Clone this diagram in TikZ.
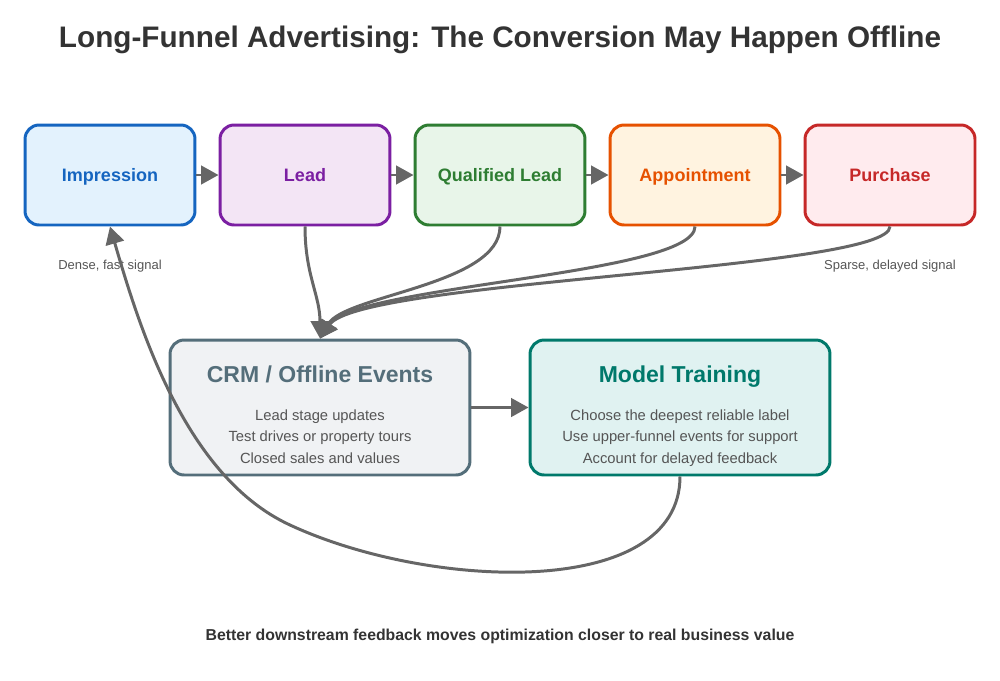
\documentclass[tikz,border=0pt]{standalone}
\usepackage{fontspec}
\setmainfont{Liberation Sans}
\usepackage{xcolor}
\usetikzlibrary{arrows.meta,positioning}

\definecolor{impline}{HTML}{1565C0}\definecolor{impfill}{HTML}{E3F2FD}
\definecolor{leadline}{HTML}{7B1FA2}\definecolor{leadfill}{HTML}{F3E5F5}
\definecolor{qualline}{HTML}{2E7D32}\definecolor{qualfill}{HTML}{E8F5E9}
\definecolor{apptline}{HTML}{E65100}\definecolor{apptfill}{HTML}{FFF3E0}
\definecolor{buyline}{HTML}{C62828}\definecolor{buyfill}{HTML}{FFEBEE}
\definecolor{crmline}{HTML}{546E7A}\definecolor{crmfill}{HTML}{F0F2F4}
\definecolor{trainline}{HTML}{00796B}\definecolor{trainfill}{HTML}{E0F2F1}
\definecolor{flow}{HTML}{666666}
\definecolor{ink}{HTML}{333333}
\definecolor{soft}{HTML}{555555}

\tikzset{
  box/.style={draw, rounded corners=8pt, line width=1.7pt, align=center},
  stage/.style={box, minimum width=3.4cm, minimum height=2cm, text height=0.9em, text depth=0.18em,
    font=\bfseries\fontsize{10.25}{12}\selectfont},
  panel/.style={box, minimum width=6cm, minimum height=2.7cm},
  paneltext/.style={align=center, text=soft, font=\fontsize{8.4}{12.5}\selectfont},
  note/.style={text=soft, font=\fontsize{7.4}{9}\selectfont},
  arrow/.style={-{Triangle[length=3.5mm, width=3.7mm]}, line width=1.7pt, draw=flow}
}
\newcommand{\panelhead}[2]{{\color{#1}\bfseries\fontsize{13.1}{15}\selectfont #2}\\[9pt]}

\begin{document}
\begin{tikzpicture}[x=0.02cm, y=-0.02cm]
    \useasboundingbox (0,0) rectangle (1000,680);

    \node[text=ink, font=\bfseries\fontsize{16.9}{20}\selectfont] (title) at (500,40)
      {Long-Funnel Advertising: The Conversion May Happen Offline};

    % funnel stages
    \node[stage, draw=impline, fill=impfill, text=impline] (imp) at (110,175) {Impression};
    \node[stage, draw=leadline, fill=leadfill, text=leadline] (lead) at (305,175) {Lead};
    \node[stage, draw=qualline, fill=qualfill, text=qualline] (qual) at (500,175) {Qualified Lead};
    \node[stage, draw=apptline, fill=apptfill, text=apptline] (appt) at (695,175) {Appointment};
    \node[stage, draw=buyline, fill=buyfill, text=buyline] (buy) at (890,175) {Purchase};

    \draw[arrow] (imp) -- (lead);
    \draw[arrow] (lead) -- (qual);
    \draw[arrow] (qual) -- (appt);
    \draw[arrow] (appt) -- (buy);

    \node[note] (dense) at (110,266.5) {Dense, fast signal};
    \node[note] (sparse) at (890,266.5) {Sparse, delayed signal};

    % offline side
    \node[panel, draw=crmline, fill=crmfill] (crm) at (320,407.5) {};
    \node[paneltext, yshift=-6pt] (crmtext) at (crm.center)
      {\panelhead{crmline}{CRM / Offline Events}Lead stage updates\\ Test drives or property tours\\ Closed sales and values\strut};
    \node[panel, draw=trainline, fill=trainfill] (train) at (680,407.5) {};
    \node[paneltext, yshift=-6pt] (traintext) at (train.center)
      {\panelhead{trainline}{Model Training}Choose the deepest reliable label\\ Use upper-funnel events for support\\ Account for delayed feedback\strut};

    \draw[arrow] (crm) -- (train);

    \draw[arrow] (lead.south) .. controls (305,275) and (320,295) .. (crm.north);
    \draw[arrow] (qual.south) .. controls (500,285) and (345,295) .. (crm.north);
    \draw[arrow] (appt.south) .. controls (695,275) and (355,285) .. (crm.north);
    \draw[arrow] (buy.south) .. controls (890,270) and (360,280) .. (crm.north);

    % feedback loop
    \draw[arrow] (train.south) .. controls (680,600) and (430,590) .. (290,525)
      .. controls (186,477) and (140,330) .. (imp.south);

    \node[text=ink, font=\bfseries\fontsize{9}{11}\selectfont] (footer) at (500,636)
      {Better downstream feedback moves optimization closer to real business value};
\end{tikzpicture}
\end{document}
